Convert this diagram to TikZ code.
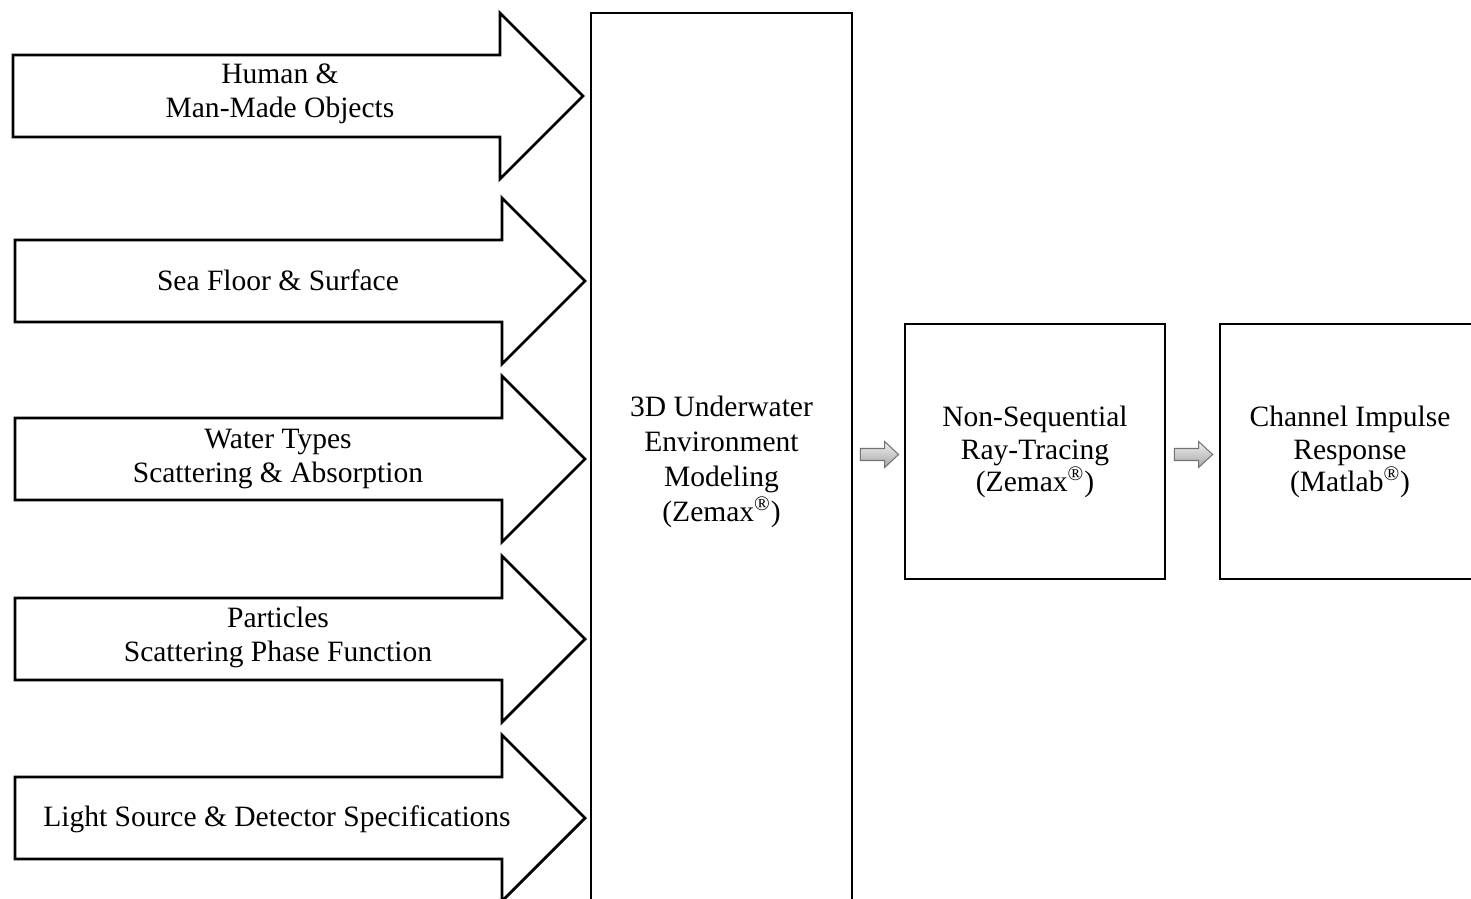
\documentclass[tikz,border=0pt]{standalone}
\usepackage{fontspec}
\setmainfont{Liberation Serif}
\usetikzlibrary{calc}

\begin{document}
\begin{tikzpicture}[x=0.2mm,y=-0.2mm,
  blk/.style={draw=black,line width=1.6pt,fill=white,line join=miter},
  lbl/.style={align=center,font=\fontsize{16.8}{19.4}\selectfont,inner sep=0pt},
  box/.style={draw=black,line width=1.6pt,align=center,font=\fontsize{16.8}{18.4}\selectfont,minimum width=52mm,minimum height=51mm},
  fat/.style={draw=black!55,line width=0.6pt,top color=black!6,bottom color=black!35}]
  \useasboundingbox (0,0) rectangle (1471,899);
  \clip (0,0) rectangle (1471,899);
  % input block arrows
  \foreach \yc/\xl/\xs/\xt in {96/13/500/583,281/15/502/585,459/15/502/585,639/15/502/585,818/15/502/585}
    \draw[blk] (\xl,\yc-41) -- (\xs,\yc-41) -- (\xs,\yc-83) -- (\xt,\yc) -- (\xs,\yc+83) -- (\xs,\yc+41) -- (\xl,\yc+41) -- cycle;
  \node[lbl] (objects) at (280,94) {Human \&\\Man-Made Objects};
  \node[lbl] (seafloor) at (278,280) {Sea Floor \& Surface};
  \node[lbl] (water) at (278,459) {Water Types\\Scattering \& Absorption};
  \node[lbl] (particles) at (278,637) {Particles\\Scattering Phase Function};
  \node[lbl] (source) at (277,819) {Light Source \& Detector Specifications};
  % processing chain
  \node[box,minimum width=52.2mm,minimum height=179.6mm,font=\fontsize{16.8}{19.8}\selectfont] (env) at (721.5,462) {3D Underwater\\Environment\\Modeling\\(Zemax\textsuperscript{\textregistered})};
  \node[box] (nsrt) at (1035,451.5) {\\[-6pt]Non-Sequential\\Ray-Tracing\\(Zemax\textsuperscript{\textregistered})};
  \node[box] (cir) at (1350,451.5) {\\[-6pt]Channel Impulse\\Response\\(Matlab\textsuperscript{\textregistered})};
  \coordinate (s1) at ($(env.east |- nsrt.west)+(7,3)$);
  \coordinate (e1) at ($(nsrt.west)+(-5,3)$);
  \coordinate (s2) at ($(nsrt.east)+(8,3)$);
  \coordinate (e2) at ($(cir.west)+(-6,3)$);
  \draw[fat] ($(s1)+(0,-6)$) -- ($(e1)+(-14,-6)$) -- ($(e1)+(-14,-13)$) -- (e1) -- ($(e1)+(-14,13)$) -- ($(e1)+(-14,6)$) -- ($(s1)+(0,6)$) -- cycle;
  \draw[fat] ($(s2)+(0,-6)$) -- ($(e2)+(-14,-6)$) -- ($(e2)+(-14,-13)$) -- (e2) -- ($(e2)+(-14,13)$) -- ($(e2)+(-14,6)$) -- ($(s2)+(0,6)$) -- cycle;
\end{tikzpicture}
\end{document}
